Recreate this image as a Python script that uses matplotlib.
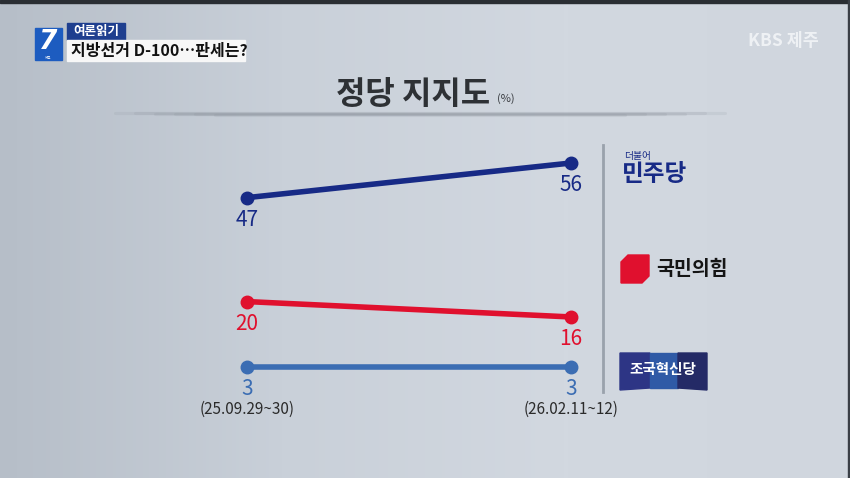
import numpy as np
import matplotlib
matplotlib.use('Agg')
import matplotlib.pyplot as plt
from matplotlib.patches import Rectangle, Polygon
from matplotlib.colors import LinearSegmentedColormap

plt.rcParams['font.family'] = ['Noto Sans CJK KR', 'DejaVu Sans']

# data
dates = ['(25.09.29~30)', '(26.02.11~12)']
parties = ['민주당', '국민의힘', '조국혁신당']
minju = [47, 56]
ppp = [20, 16]
rebuild = [3, 3]
colors = ['#172a86', '#e0102e', '#3b6db3']

W, H = 850, 478
fig = plt.figure(figsize=(W / 100, H / 100), dpi=100)

# background (pixel coordinates, y downward)
bg = fig.add_axes([0, 0, 1, 1])
bg.set_xlim(0, W)
bg.set_ylim(H, 0)
bg.axis('off')
grad = np.linspace(0, 1, 256)
grad = np.vstack([grad, grad])
cmap = LinearSegmentedColormap.from_list('bg', ['#b6bec8', '#c9d0d9', '#d2d8e0', '#d0d6de'])
bg.imshow(grad, extent=[0, W, H, 0], aspect='auto', cmap=cmap, zorder=0)
bg.add_patch(Rectangle((0, 0), W, 3, color='#2a2e33', zorder=1))
bg.add_patch(Rectangle((W - 2, 0), 2, H, color='#3a3f46', zorder=1))

# header
bg.add_patch(Rectangle((35, 28), 27, 32, color='#1d5cc0', zorder=2))
bg.text(48, 42, '7', color='white', fontsize=19, fontweight='bold', style='italic',
        ha='center', va='center', zorder=3, family='DejaVu Sans')
bg.text(48, 57.5, '제주', color='white', fontsize=2.5, ha='center', va='center', zorder=3)
bg.add_patch(Rectangle((67, 23), 58, 17, color='#1f3f8f', zorder=2))
bg.text(96, 31.5, '여론읽기', color='white', fontsize=9, fontweight='bold',
        ha='center', va='center', zorder=3)
bg.add_patch(Rectangle((67, 40), 178, 21, color='#f7f7f7', zorder=2))
bg.text(71, 50.5, '지방선거 D-100…판세는?', color='#111111', fontsize=11.5,
        fontweight='bold', ha='left', va='center', zorder=3)
bg.text(783, 41, 'KBS 제주', color='#f4f6f9', fontsize=12.5, fontweight='bold',
        ha='center', va='center', zorder=3, alpha=0.85)

# title
bg.text(413, 95, '정당 지지도', color='#2e3135', fontsize=23, fontweight='bold',
        ha='center', va='center', zorder=3)
bg.text(506, 99, '(%)', color='#3a3d42', fontsize=8, ha='center', va='center', zorder=3)
for i in range(6):
    bg.plot([115 + i * 20, 725 - i * 20], [113 + i * 0.3, 113 + i * 0.3],
            color='#7d848e', lw=2.2, alpha=0.12, solid_capstyle='round', zorder=2)

# vertical divider
bg.plot([603, 603], [145, 392], color='#9aa2ac', lw=2, zorder=2)

# legend: 민주당
bg.text(638, 156, '더불어', color='#172a86', fontsize=7, style='italic',
        ha='center', va='center', zorder=3)
bg.text(655, 174, '민주당', color='#172a86', fontsize=17, fontweight='bold',
        ha='center', va='center', zorder=3)
# legend: 국민의힘
bg.add_patch(Polygon([[628, 255], [649, 255], [649, 276], [642, 283], [621, 283], [621, 262]],
                     closed=True, color='#e0102e', zorder=3))
bg.text(656, 269, '국민의힘', color='#151515', fontsize=14, fontweight='bold',
        ha='left', va='center', zorder=3)
# legend: 조국혁신당
bg.add_patch(Polygon([[620, 353], [650, 353], [650, 388], [620, 390]],
                     closed=True, color='#2d3585', zorder=3))
bg.add_patch(Polygon([[650, 353], [678, 353], [678, 388], [650, 388]],
                     closed=True, color='#2f5aa6', zorder=3))
bg.add_patch(Polygon([[678, 353], [707, 353], [707, 390], [678, 388]],
                     closed=True, color='#242a66', zorder=3))
bg.text(663, 369, '조국혁신당', color='white', fontsize=10.5, fontweight='bold',
        ha='center', va='center', zorder=4)

# data axes
x0, x1 = 247, 571
px0, px1 = 190, 620
py_top, py_bot = 140, 395
ax = fig.add_axes([px0 / W, 1 - py_bot / H, (px1 - px0) / W, (py_bot - py_top) / H])
ax.patch.set_alpha(0)
ux = (x1 - x0)
ax.set_xlim((px0 - x0) / ux, (px1 - x0) / ux)
uy = (367 - 163) / 53.0
ax.set_ylim(3 - (py_bot - 367) / uy, 56 + (163 - py_top) / uy)
for s in ax.spines.values():
    s.set_visible(False)

xs = [0, 1]
for vals, c in zip([minju, ppp, rebuild], colors):
    ax.plot(xs, vals, color=c, lw=4, marker='o', markersize=9, solid_capstyle='round', zorder=3)
    for x, v in zip(xs, vals):
        ax.annotate(str(v), (x, v), xytext=(0, -16), textcoords='offset points',
                    ha='center', va='center', color=c, fontsize=15, zorder=4)

ax.set_yticks([])
ax.set_xticks(xs)
ax.set_xticklabels(dates, fontsize=11, color='#2b2b2b')
ax.tick_params(axis='x', length=0, pad=4)

fig.savefig('out.png', dpi=100)
